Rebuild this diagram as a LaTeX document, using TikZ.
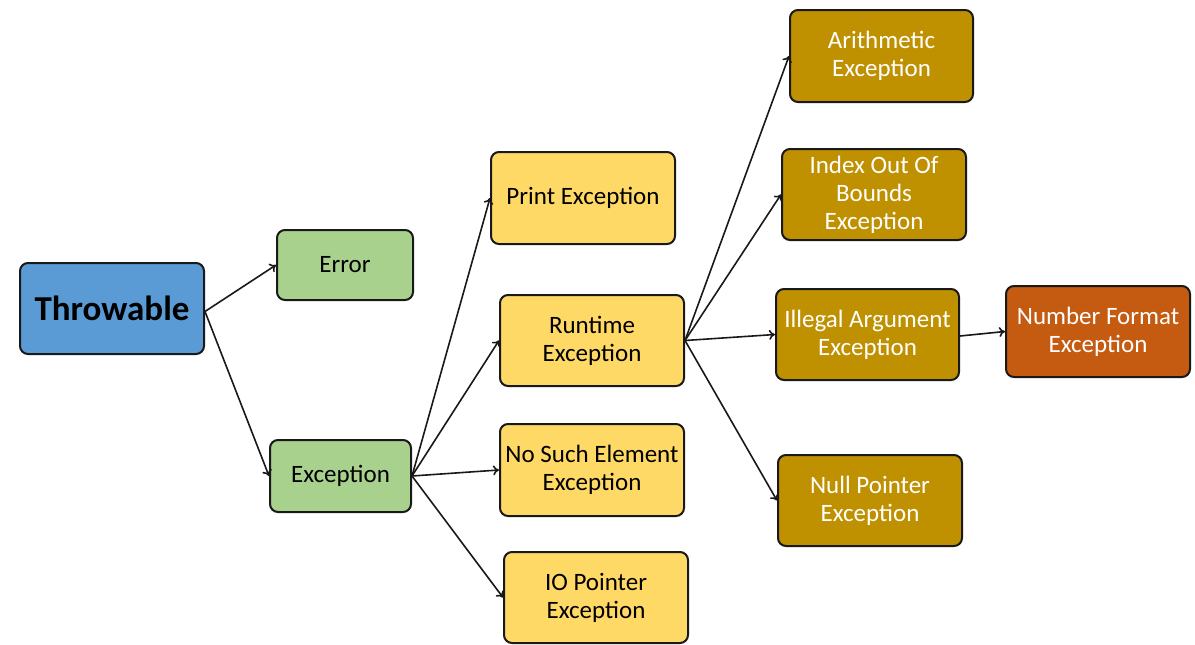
\documentclass[tikz,border=0pt]{standalone}
\usepackage{fontspec}
\setmainfont{Carlito}
\usetikzlibrary{arrows.meta}
\begin{document}
\begin{tikzpicture}[x=1pt,y=-1pt,
  box/.style={draw=black!90, line width=2pt, rounded corners=8pt, align=center, inner sep=0pt, font=\fontsize{25}{28}\selectfont},
  blue box/.style={box, fill=blueA},
  green box/.style={box, fill=greenA, text=black},
  yellow box/.style={box, fill=yellowA, text=black},
  gold box/.style={box, fill=goldA, text=white},
  orange box/.style={box, fill=orangeA, text=white},
  arr/.style={-{To[length=6pt,width=10pt]}, line width=1.6pt, draw=black!90}
]
\definecolor{blueA}{HTML}{5B9BD5}
\definecolor{greenA}{HTML}{A9D18E}
\definecolor{yellowA}{HTML}{FFD966}
\definecolor{goldA}{HTML}{BF9000}
\definecolor{orangeA}{HTML}{C55A11}
\useasboundingbox (0,0) rectangle (1195,645);

\node[blue box, minimum width=184pt, minimum height=91pt, font=\fontsize{35}{40}\selectfont\bfseries] (thr) at (112,308.5) {Throwable};
\node[green box, minimum width=136pt, minimum height=70pt] (err) at (345,265) {Error};
\node[green box, minimum width=141pt, minimum height=72pt] (exc) at (340.5,476) {Exception};

\node[yellow box, minimum width=184pt, minimum height=92pt] (prt) at (583,198) {Print Exception};
\node[yellow box, minimum width=184pt, minimum height=91pt] (run) at (592,340.5) {Runtime\\Exception};
\node[yellow box, minimum width=184pt, minimum height=92pt] (nse) at (592,470) {No Such Element\\Exception};
\node[yellow box, minimum width=184pt, minimum height=91pt] (iop) at (596,597.5) {IO Pointer\\Exception};

\node[gold box, minimum width=183pt, minimum height=92pt] (ari) at (881.5,56) {Arithmetic\\Exception};
\node[gold box, minimum width=184pt, minimum height=91pt] (idx) at (874,194.5) {Index Out Of\\Bounds\\Exception};
\node[gold box, minimum width=183pt, minimum height=91pt] (ill) at (867.5,334.5) {Illegal Argument\\Exception};
\node[gold box, minimum width=184pt, minimum height=91pt] (nul) at (870,500.5) {Null Pointer\\Exception};

\node[orange box, minimum width=184pt, minimum height=91pt] (nfe) at (1098,331.5) {Number Format\\Exception};

\coordinate (thrR) at ([yshift=-3pt]thr.east);
\draw[arr] (thrR) -- (err.west);
\draw[arr] (thrR) -- (exc.west);

\draw[arr] (exc.east) -- (prt.west);
\draw[arr] (exc.east) -- (run.west);
\draw[arr] (exc.east) -- (nse.west);
\draw[arr] (exc.east) -- (iop.west);

\draw[arr] (run.east) -- (ari.west);
\draw[arr] (run.east) -- (idx.west);
\draw[arr] (run.east) -- (ill.west);
\draw[arr] (run.east) -- (nul.west);

\draw[arr] ([yshift=-1.5pt]ill.east) -- (nfe.west);
\end{tikzpicture}
\end{document}
